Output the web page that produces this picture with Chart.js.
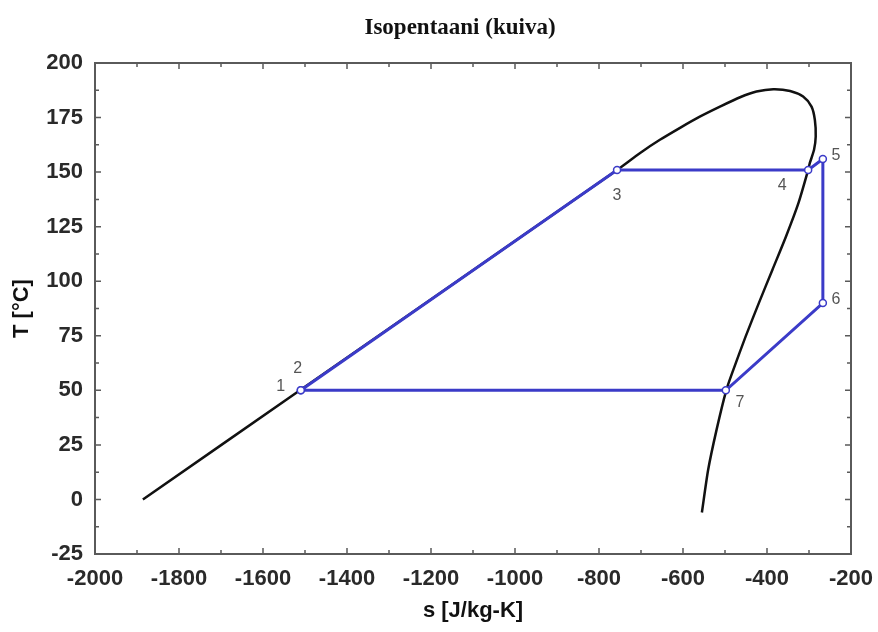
<!DOCTYPE html>
<html>
<head>
<meta charset="utf-8">
<title>Isopentaani (kuiva)</title>
<script src="https://cdn.jsdelivr.net/npm/chart.js"></script>
<style>
html, body { margin: 0; padding: 0; background: #fff; }
#wrap { width: 878px; height: 632px; }
</style>
</head>
<body>
<div id="wrap"><canvas id="tsChart" width="878" height="632"></canvas></div>
<script>
// saturation dome (s [J/kg-K], T [C])
var domeS = [-1886, -1512, -757, -702, -655, -607, -560, -512, -464, -425, -385, -345, -314, -294, -286, -284, -288, -298, -302, -325, -355, -387, -419, -451, -480, -497, -520, -540, -555];
var domeT = [0, 50, 151, 158.8, 164.8, 170.3, 175.4, 180, 184.3, 186.9, 188, 187.2, 184.6, 180, 173.9, 166.3, 160.2, 154.2, 151, 135.9, 120.4, 105.3, 90.2, 74.6, 59.5, 50, 32, 13.7, -6];

// cycle state points 2 -> 3 -> 4 -> 5 -> 6 -> 7 -> 1 (1 and 2 coincide)
var cycleNames = ['2', '3', '4', '5', '6', '7', '1'];
var cycleS = [-1510, -757, -302, -267, -267, -498, -1510];
var cycleT = [50, 151, 151, 156, 90, 50, 50];

var xTicks = [-2000, -1800, -1600, -1400, -1200, -1000, -800, -600, -400, -200];
var yTicks = [-25, 0, 25, 50, 75, 100, 125, 150, 175, 200];

function toPoints(xs, ys) {
    return xs.map(function (x, i) { return { x: x, y: ys[i] }; });
}

var FONT = '"Liberation Sans", Arial, sans-serif';
var BLUE = '#3b3bc8';

// frame with inward major/minor ticks on all four sides, point numbers, title
var framePlugin = {
    id: 'frame',
    afterDraw: function (chart) {
        var ctx = chart.ctx;
        var a = chart.chartArea;
        var xs = chart.scales.x, ys = chart.scales.y;
        ctx.save();
        ctx.strokeStyle = '#5a5a5a';
        ctx.lineWidth = 1.5;
        ctx.beginPath();
        var i, v, px, len;
        for (i = 0; i < xTicks.length * 2 - 1; i++) {
            v = xTicks[0] + i * 100;
            px = xs.getPixelForValue(v);
            len = i % 2 === 0 ? 6 : 4;
            ctx.moveTo(px, a.bottom); ctx.lineTo(px, a.bottom - len);
            ctx.moveTo(px, a.top); ctx.lineTo(px, a.top + len);
        }
        for (i = 0; i < yTicks.length * 2 - 1; i++) {
            v = yTicks[0] + i * 12.5;
            px = ys.getPixelForValue(v);
            len = i % 2 === 0 ? 6 : 4;
            ctx.moveTo(a.left, px); ctx.lineTo(a.left + len, px);
            ctx.moveTo(a.right, px); ctx.lineTo(a.right - len, px);
        }
        ctx.stroke();
        ctx.lineWidth = 2;
        ctx.strokeRect(a.left, a.top, a.right - a.left, a.bottom - a.top);

        // state point numbers
        var offs = { '1': [-20, -4], '2': [-3, -22], '3': [0, 26], '4': [-26, 16], '5': [13, -3], '6': [13, -3], '7': [14, 12] };
        ctx.fillStyle = '#555';
        ctx.font = '16px ' + FONT;
        ctx.textAlign = 'center';
        ctx.textBaseline = 'middle';
        cycleNames.forEach(function (n, k) {
            var o = offs[n];
            ctx.fillText(n, xs.getPixelForValue(cycleS[k]) + o[0], ys.getPixelForValue(cycleT[k]) + o[1]);
        });

        // title
        ctx.fillStyle = '#111';
        ctx.font = 'bold 23px "Liberation Serif", "Times New Roman", serif';
        ctx.fillText('Isopentaani (kuiva)', 460, 28);
        ctx.restore();
    }
};

new Chart(document.getElementById('tsChart'), {
    type: 'scatter',
    data: {
        datasets: [{
            label: 'kierto',
            data: toPoints(cycleS, cycleT),
            showLine: true,
            borderColor: BLUE,
            borderWidth: 3,
            pointRadius: 3.5,
            pointBorderWidth: 1.5,
            pointBorderColor: BLUE,
            pointBackgroundColor: '#fff',
            order: 0
        }, {
            label: 'kyllastymiskayra',
            data: toPoints(domeS, domeT),
            showLine: true,
            borderColor: '#111',
            borderWidth: 2.5,
            tension: 0.25,
            pointRadius: 0,
            order: 1
        }]
    },
    options: {
        responsive: false,
        animation: false,
        layout: { padding: { top: 63, right: 27, left: 0, bottom: 0 } },
        plugins: {
            legend: { display: false },
            tooltip: { enabled: false },
            title: { display: false }
        },
        scales: {
            x: {
                type: 'linear',
                min: -2000,
                max: -200,
                afterBuildTicks: function (s) { s.ticks = xTicks.map(function (v) { return { value: v }; }); },
                afterFit: function (s) { s.height = 78; s.paddingLeft = 0; s.paddingRight = 0; },
                grid: { display: false, drawTicks: false },
                border: { display: false },
                ticks: { color: '#2a2a2a', padding: 12, font: { family: FONT, size: 22, weight: 'bold' }, maxRotation: 0,
                    callback: function (v) { return String(v); } },
                title: { display: true, text: 's [J/kg-K]', color: '#111', padding: { top: 0, bottom: 8 }, font: { family: FONT, size: 22, weight: 'bold' } }
            },
            y: {
                type: 'linear',
                min: -25,
                max: 200,
                afterBuildTicks: function (s) { s.ticks = yTicks.map(function (v) { return { value: v }; }); },
                afterFit: function (s) { s.width = 95; },
                grid: { display: false, drawTicks: false },
                border: { display: false },
                ticks: { color: '#2a2a2a', padding: 12, font: { family: FONT, size: 22, weight: 'bold' },
                    callback: function (v) { return String(v); } },
                title: { display: true, text: 'T [°C]', color: '#111', padding: { top: 9, bottom: 0 }, font: { family: FONT, size: 22, weight: 'bold' } }
            }
        }
    },
    plugins: [framePlugin]
});
</script>
</body>
</html>
